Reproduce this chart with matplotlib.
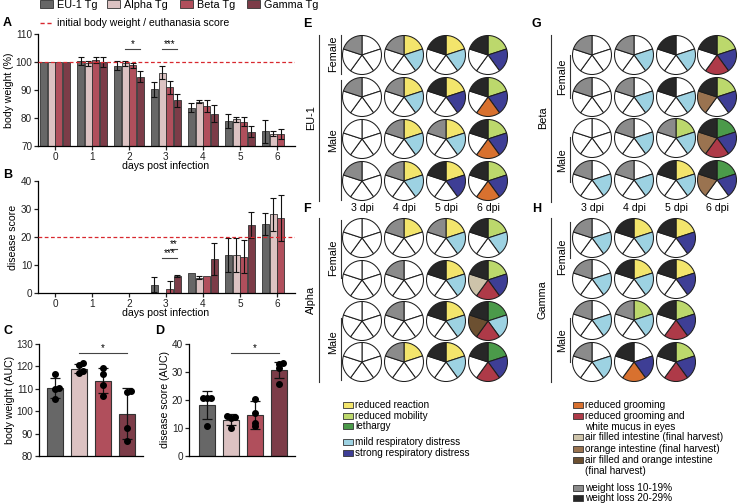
import matplotlib
matplotlib.use('Agg')
import matplotlib.pyplot as plt
from matplotlib.patches import Rectangle
from matplotlib.lines import Line2D
import numpy as np

plt.rcParams['font.family'] = ['Liberation Sans', 'DejaVu Sans']
plt.rcParams['font.size'] = 7
plt.rcParams['axes.linewidth'] = 0.9
plt.rcParams['xtick.major.width'] = 0.9
plt.rcParams['ytick.major.width'] = 0.9
plt.rcParams['xtick.major.size'] = 3
plt.rcParams['ytick.major.size'] = 3
plt.rcParams['xtick.major.pad'] = 1.0
plt.rcParams['ytick.major.pad'] = 1.2

nan = np.nan
# ---------------- data ----------------
groups = ['EU-1 Tg', 'Alpha Tg', 'Beta Tg', 'Gamma Tg']
group_colors = ['#676767', '#dcc2c2', '#b04f5c', '#7c3c48']
days = [0, 1, 2, 3, 4, 5, 6]

bw_mean = {
    'EU-1 Tg':  [100, 100.3, 98.7, 90.3, 83.7, 79.0, 75.2],
    'Alpha Tg': [100, 99.5, 99.5, 96.2, 85.8, 79.5, 74.4],
    'Beta Tg':  [100, 100.7, 98.8, 91.0, 84.3, 78.7, 74.2],
    'Gamma Tg': [100, 100.0, 94.8, 86.3, 81.5, 75.1, nan],
}
bw_sd = {
    'EU-1 Tg':  [0, 1.5, 1.5, 2.7, 1.7, 2.4, 4.0],
    'Alpha Tg': [0, 1.0, 1.0, 2.4, 0.6, 0.8, 1.0],
    'Beta Tg':  [0, 1.0, 1.0, 2.3, 2.0, 1.7, 1.7],
    'Gamma Tg': [0, 1.8, 2.0, 2.3, 3.1, 2.0, nan],
}
ds_mean = {
    'EU-1 Tg':  [0, 0, 0, 3.0, 7.0, 13.5, 24.6],
    'Alpha Tg': [0, 0, 0, 0.0, 5.5, 13.5, 28.1],
    'Beta Tg':  [0, 0, 0, 1.5, 6.0, 13.0, 26.7],
    'Gamma Tg': [0, 0, 0, 6.0, 12.2, 24.3, nan],
}
ds_sd = {
    'EU-1 Tg':  [0, 0, 0, 2.6, 0, 6.0, 4.0],
    'Alpha Tg': [0, 0, 0, 0, 0.6, 6.0, 6.0],
    'Beta Tg':  [0, 0, 0, 2.8, 0, 6.0, 8.3],
    'Gamma Tg': [0, 0, 0, 0.3, 5.7, 4.5, nan],
}

auc_bw_mean = [110.2, 118.9, 113.6, 98.9]
auc_bw_sd = [4.5, 2.0, 5.5, 11.5]
auc_bw_pts = [[116.6, 110.3, 109.8, 105.5],
              [121.4, 120.6, 117.8, 116.9],
              [119.5, 116.5, 111.5, 107.0],
              [108.8, 108.5, 92.3, 86.5]]
auc_ds_mean = [18.1, 13.0, 14.5, 30.6]
auc_ds_sd = [5.0, 2.0, 5.0, 2.8]
auc_ds_pts = [[20.6, 20.6, 20.6, 10.6],
              [14.4, 14.0, 13.6, 10.0],
              [20.2, 15.4, 11.8, 10.6],
              [33.2, 33.0, 31.3, 25.8]]

# pie slots (clockwise from 12 o'clock): behaviour, respiration, grooming, intestine, weight loss
symptom_colors = {
    '-': '#ffffff',
    'y': '#f3e56c',  # reduced reaction
    'm': '#bcd86c',  # reduced mobility
    'l': '#4b9a4a',  # lethargy
    'b': '#9dd2e2',  # mild respiratory distress
    'B': '#3e3e95',  # strong respiratory distress
    'o': '#d8712f',  # reduced grooming
    'r': '#ae3a48',  # reduced grooming and white mucus
    'a': '#cdc3aa',  # air filled intestine
    'i': '#9a7350',  # orange intestine
    'd': '#6c5031',  # air filled and orange intestine
    'g': '#8b8b8b',  # weight loss 10-19%
    'k': '#272727',  # weight loss 20-29%
}
dpi_labels = ['3 dpi', '4 dpi', '5 dpi', '6 dpi']
pies_eu1 = [['----g', 'yb--g', 'yb--k', 'mB--k'],
            ['----g', 'yb--g', 'yB--k', 'mBo-k'],
            ['-----', 'yb--g', 'yb--g', 'mBo-k'],
            ['----g', 'yb--g', 'yB--k', 'mBo-k']]
pies_alpha = [['-----', 'y---g', 'yb--g', 'mb--k'],
              ['-----', '----g', 'yb--k', 'mBrak'],
              ['-----', '----g', 'yb--k', 'lbrdk'],
              ['-----', 'y---g', 'yb--k', 'lBr-k']]
pies_beta = [['----g', '-b--g', '-b--k', 'mBr-k'],
             ['----g', '-b--g', '-b--k', 'mB-ik'],
             ['-----', '-b--g', 'mb--g', 'lBrik'],
             ['-b--g', '-b--g', 'yb--k', 'lB-ik']]
pies_gamma = [['-b--g', 'yb--k', 'yB--k'],
              ['-b--g', 'yb--k', 'yB--k'],
              ['-b--g', 'mb--g', 'mBr-k'],
              ['-b--g', '-Bo-k', 'mBr-k']]

legend_left = [('y', 'reduced reaction'), ('m', 'reduced mobility'), ('l', 'lethargy'),
               ('b', 'mild respiratory distress'), ('B', 'strong respiratory distress')]
legend_right = [('o', 'reduced grooming'), ('r', 'reduced grooming and\nwhite mucus in eyes'),
                ('a', 'air filled intestine (final harvest)'), ('i', 'orange intestine (final harvest)'),
                ('d', 'air filled and orange intestine\n(final harvest)'),
                ('g', 'weight loss 10-19%'), ('k', 'weight loss 20-29%')]

# ---------------- figure ----------------
W, H = 739, 503
fig = plt.figure(figsize=(W / 100, H / 100), dpi=100)
RED = '#d8282f'


def add_ax(x0, y0, x1, y1):
    return fig.add_axes([x0 / W, 1 - y1 / H, (x1 - x0) / W, (y1 - y0) / H])


def ftext(x, y, s, **kw):
    kw.setdefault('ha', 'center')
    kw.setdefault('va', 'center')
    fig.text(x / W, 1 - y / H, s, **kw)


def fline(xs, ys, **kw):
    fig.add_artist(Line2D([x / W for x in xs], [1 - y / H for y in ys],
                          transform=fig.transFigure, **kw))


def fsquare(x, y, w, h, color):
    fig.add_artist(Rectangle((x / W, 1 - (y + h) / H), w / W, h / H, transform=fig.transFigure,
                             facecolor=color, edgecolor='#333333', linewidth=0.6))


def style(ax):
    for s in ['top', 'right']:
        ax.spines[s].set_visible(False)
    ax.tick_params(labelsize=7.2, colors='#222222')


def sig(ax, x0, x1, y, txt):
    ax.plot([x0, x1], [y, y], color='#444444', lw=0.8, clip_on=False)
    ax.text((x0 + x1) / 2, y, txt, ha='center', va='bottom', fontsize=7, clip_on=False)


def grouped(ax, means, sds):
    step, bw = 0.207, 0.19
    x = np.array(days, dtype=float)
    for i, g in enumerate(groups):
        xi = x + (i - 1.5) * step
        m = np.array(means[g], dtype=float)
        s = np.array(sds[g], dtype=float)
        ok = ~np.isnan(m)
        ax.bar(xi[ok], m[ok], width=bw, color=group_colors[i], edgecolor='#333333', linewidth=0.6, zorder=2)
        e = ok & (s > 0)
        ax.errorbar(xi[e], m[e], yerr=s[e], fmt='none', ecolor='#111111', elinewidth=0.8,
                    capsize=2, capthick=0.8, zorder=3)


# Panel A
axA = add_ax(38, 34, 295, 146)
grouped(axA, bw_mean, bw_sd)
axA.set_ylim(70, 110)
axA.set_xlim(-0.46, 6.49)
axA.set_yticks([70, 80, 90, 100, 110])
axA.set_xticks(days)
axA.axhline(100, color=RED, ls=(0, (3, 2)), lw=0.9, zorder=4)
style(axA)
sig(axA, 2 - 0.5 * 0.207, 2 + 1.5 * 0.207, 104.6, '*')
sig(axA, 3 - 0.5 * 0.207, 3 + 1.5 * 0.207, 104.6, '***')
ftext(9, 90, 'body weight (%)', rotation=90, fontsize=7.6)
ftext(166, 166, 'days post infection', fontsize=7.6)

# Panel B
axB = add_ax(38, 181, 295, 293)
grouped(axB, ds_mean, ds_sd)
axB.set_ylim(0, 40)
axB.set_xlim(-0.46, 6.49)
axB.set_yticks([0, 10, 20, 30, 40])
axB.set_xticks(days)
axB.axhline(20, color=RED, ls=(0, (3, 2)), lw=0.9, zorder=4)
style(axB)
sig(axB, 3 + 0.5 * 0.207, 3 + 1.5 * 0.207, 15.7, '**')
sig(axB, 3 - 0.5 * 0.207, 3 + 1.5 * 0.207, 12.6, '***')
ftext(13, 237, 'disease score', rotation=90, fontsize=7.6)
ftext(166, 313, 'days post infection', fontsize=7.6)


def swarm(vals, tol, dx):
    offs = np.zeros(len(vals))
    order = np.argsort(vals)
    placed = []
    for idx in order:
        v = vals[idx]
        near = [p for p in placed if abs(vals[p] - v) < tol]
        k = len(near)
        offs[idx] = 0 if k == 0 else (dx * ((k + 1) // 2) * (1 if k % 2 else -1))
        placed.append(idx)
    return offs


def auc(ax, means, sds, pts, tol):
    x = np.arange(4)
    ax.bar(x, means, width=0.67, color=group_colors, edgecolor='#333333', linewidth=0.8, zorder=2)
    ax.errorbar(x, means, yerr=sds, fmt='none', ecolor='#111111', elinewidth=0.9, capsize=3.5,
                capthick=0.9, zorder=3)
    for i, p in enumerate(pts):
        p = np.array(p)
        ax.scatter(i + swarm(p, tol, 0.17), p, s=16, color='black', zorder=4, clip_on=False)
    ax.set_xticks([])
    style(ax)


# Panel C
axC = add_ax(39, 344, 143, 456)
auc(axC, auc_bw_mean, auc_bw_sd, auc_bw_pts, 1.5)
axC.set_ylim(80, 130)
axC.set_xlim(-0.67, 3.69)
axC.set_yticks([80, 90, 100, 110, 120, 130])
sig(axC, 1, 3, 126, '*')
ftext(10, 400, 'body weight (AUC)', rotation=90, fontsize=7.6)

# Panel D
axD = add_ax(189, 344, 295, 456)
auc(axD, auc_ds_mean, auc_ds_sd, auc_ds_pts, 1.2)
axD.set_ylim(0, 40)
axD.set_xlim(-0.76, 3.69)
axD.set_yticks([0, 10, 20, 30, 40])
sig(axD, 1, 3, 36.8, '*')
ftext(165, 400, 'disease score (AUC)', rotation=90, fontsize=7.6)

# top legend
for g, c, x in zip(groups, group_colors, [40, 107, 180, 247]):
    fsquare(x, 0, 13, 8, c)
    ftext(x + 17, 4.5, g, ha='left', fontsize=7.8)
fline([40, 53], [23, 23], color=RED, lw=1.0, ls=(0, (3, 2)))
ftext(57, 23, 'initial body weight / euthanasia score', ha='left', fontsize=7.6)

# panel letters
for L, x, y in [('A', 3, 23), ('B', 3, 175), ('C', 3, 331), ('D', 155, 331),
                ('E', 303, 24), ('F', 303, 209), ('G', 532, 24), ('H', 532, 209)]:
    ftext(x, y, L, ha='left', fontsize=9, fontweight='bold')


# pies
def draw_pies(pies, col_x, row_y, r=19.5):
    half = 21
    for ri, row in enumerate(pies):
        for ci, code in enumerate(row):
            cx, cy = col_x[ci], row_y[ri]
            ax = add_ax(cx - half, cy - half, cx + half, cy + half)
            cols = [symptom_colors[c] for c in code]
            ax.pie([1] * 5, colors=cols, startangle=90, counterclock=False, radius=r / half,
                   wedgeprops=dict(edgecolor='#1e1e1e', linewidth=0.75))
            ax.set_xlim(-1, 1)
            ax.set_ylim(-1, 1)
            ax.set_aspect('equal')
            ax.axis('off')


colsL = [362, 404, 446, 488]
colsR = [592, 634, 676, 717]
draw_pies(pies_eu1, colsL, [55, 97, 139, 181])
draw_pies(pies_alpha, colsL, [238, 280, 321, 362])
draw_pies(pies_beta, colsR, [55, 97, 138, 180])
draw_pies(pies_gamma, colsR, [238, 279, 320, 362])

for lbl, x in zip(dpi_labels, colsL):
    ftext(x, 208, lbl, fontsize=7.6)
for lbl, x in zip(dpi_labels, colsR):
    ftext(x, 208, lbl, fontsize=7.6)

# group labels and brackets
lab = dict(fontsize=7.8, rotation=90)
ftext(311, 118, 'EU-1', **lab); fline([319, 319], [35, 201], color='#333333', lw=0.8)
ftext(333, 54, 'Female', **lab); fline([341, 341], [35, 74], color='#333333', lw=0.8)
ftext(333, 140, 'Male', **lab); fline([341, 341], [80, 200], color='#333333', lw=0.8)
ftext(311, 300, 'Alpha', **lab); fline([319, 319], [218, 382], color='#333333', lw=0.8)
ftext(333, 258, 'Female', **lab); fline([341, 341], [220, 278], color='#333333', lw=0.8)
ftext(333, 342, 'Male', **lab); fline([341, 341], [318, 380], color='#333333', lw=0.8)
ftext(543, 118, 'Beta', **lab); fline([551, 551], [35, 202], color='#333333', lw=0.8)
ftext(562, 77, 'Female', **lab); fline([570, 570], [55, 98], color='#333333', lw=0.8)
ftext(562, 160, 'Male', **lab); fline([570, 570], [137, 182], color='#333333', lw=0.8)
ftext(543, 300, 'Gamma', **lab); fline([551, 551], [218, 382], color='#333333', lw=0.8)
ftext(562, 257, 'Female', **lab); fline([570, 570], [222, 258], color='#333333', lw=0.8)
ftext(562, 340, 'Male', **lab); fline([570, 570], [318, 362], color='#333333', lw=0.8)

# pie legends
LF = 7.2
for (c, t), y in zip(legend_left, [405, 416, 426, 442, 453]):
    fsquare(343, y - 3, 10, 6, symptom_colors[c])
    ftext(355, y, t, ha='left', fontsize=LF)
ry = [405, 416, 437, 449, 460, 488, 498]
for (c, t), y in zip(legend_right, ry):
    fsquare(573, y - 3, 10, 6, symptom_colors[c])
    for k, ln in enumerate(t.split('\n')):
        ftext(585, y + k * 10.5, ln, ha='left', fontsize=LF)

fig.savefig('out.png', dpi=100)
